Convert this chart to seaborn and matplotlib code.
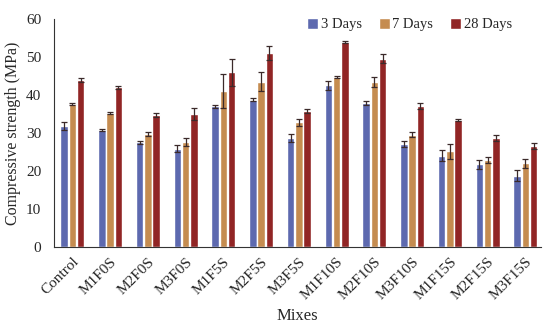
import seaborn as sns
import matplotlib.pyplot as plt
import numpy as np
import pandas as pd

mixes = ['Control', 'M1F0S', 'M2F0S', 'M3F0S', 'M1F5S', 'M2F5S', 'M3F5S',
         'M1F10S', 'M2F10S', 'M3F10S', 'M1F15S', 'M2F15S', 'M3F15S']
ages = ['3 Days', '7 Days', '28 Days']

day3 = [31.8, 30.8, 27.6, 25.9, 37.0, 38.8, 28.7, 42.6, 38.0, 27.2, 24.0, 21.8, 18.8]
day7 = [37.7, 35.2, 29.8, 27.6, 41.0, 43.5, 32.8, 44.8, 43.5, 29.6, 25.2, 22.9, 22.0]
day28 = [44.0, 42.0, 34.7, 35.0, 46.0, 51.0, 35.9, 54.0, 49.6, 37.2, 33.5, 28.6, 26.5]

err3 = [1.0, 0.2, 0.4, 1.0, 0.3, 0.5, 1.0, 1.2, 0.5, 0.8, 1.5, 1.2, 1.5]
err7 = [0.2, 0.3, 0.5, 1.0, 4.5, 2.5, 1.0, 0.3, 1.3, 0.6, 2.0, 0.8, 1.2]
err28 = [0.5, 0.5, 0.5, 1.5, 3.5, 1.8, 0.5, 0.3, 1.2, 0.8, 0.3, 0.8, 0.8]

kolory = ['#4f60bd', '#d98c3c', '#a31313']

df = pd.DataFrame({
    'Mixes': mixes * 3,
    'Age': [a for a in ages for _ in mixes],
    'Strength': day3 + day7 + day28,
})

sns.set_style('white')
plt.rcParams['font.family'] = ['Liberation Serif', 'DejaVu Serif']

fig, ax = plt.subplots(figsize=(5.5, 3.24), dpi=100)
sns.barplot(data=df, x='Mixes', y='Strength', hue='Age', order=mixes, hue_order=ages,
            palette=kolory, width=0.66, gap=0.1, errorbar=None, ax=ax)

# slupki bledow
bledy = [err3, err7, err28]
kontenery = list(ax.containers)
for i, cont in enumerate(kontenery):
    xs = [p.get_x() + p.get_width() / 2 for p in cont.patches]
    ys = [p.get_height() for p in cont.patches]
    ax.errorbar(xs, ys, yerr=bledy[i], fmt='none', ecolor='#3b2a2a',
                elinewidth=0.9, capsize=2.2, capthick=0.9)

ax.set_ylim(0, 60)
ax.set_yticks(np.arange(0, 61, 10))
ax.set_xlim(-0.49, len(mixes) - 0.58)
ax.set_xlabel('Mixes', fontsize=12, labelpad=4)
ax.set_ylabel('Compressive strength (MPa)', fontsize=11.5, labelpad=4)
plt.setp(ax.get_xticklabels(), rotation=45, ha='right', rotation_mode='anchor', fontsize=11)
plt.setp(ax.get_yticklabels(), fontsize=11)
ax.tick_params(axis='y', length=0, pad=9)
ax.tick_params(axis='x', length=0, pad=6)
sns.despine(ax=ax)
ax.spines['left'].set_color('#333333')
ax.spines['bottom'].set_color('#333333')

ax.legend(title=None, ncol=3, loc='upper right', bbox_to_anchor=(0.955, 0.985),
          bbox_transform=fig.transFigure, frameon=False,
          fontsize=10.5, handlelength=0.75, handleheight=0.75, handletextpad=0.2, columnspacing=1.15)

plt.subplots_adjust(left=0.098, right=0.984, top=0.941, bottom=0.238)
plt.savefig('out.png')
